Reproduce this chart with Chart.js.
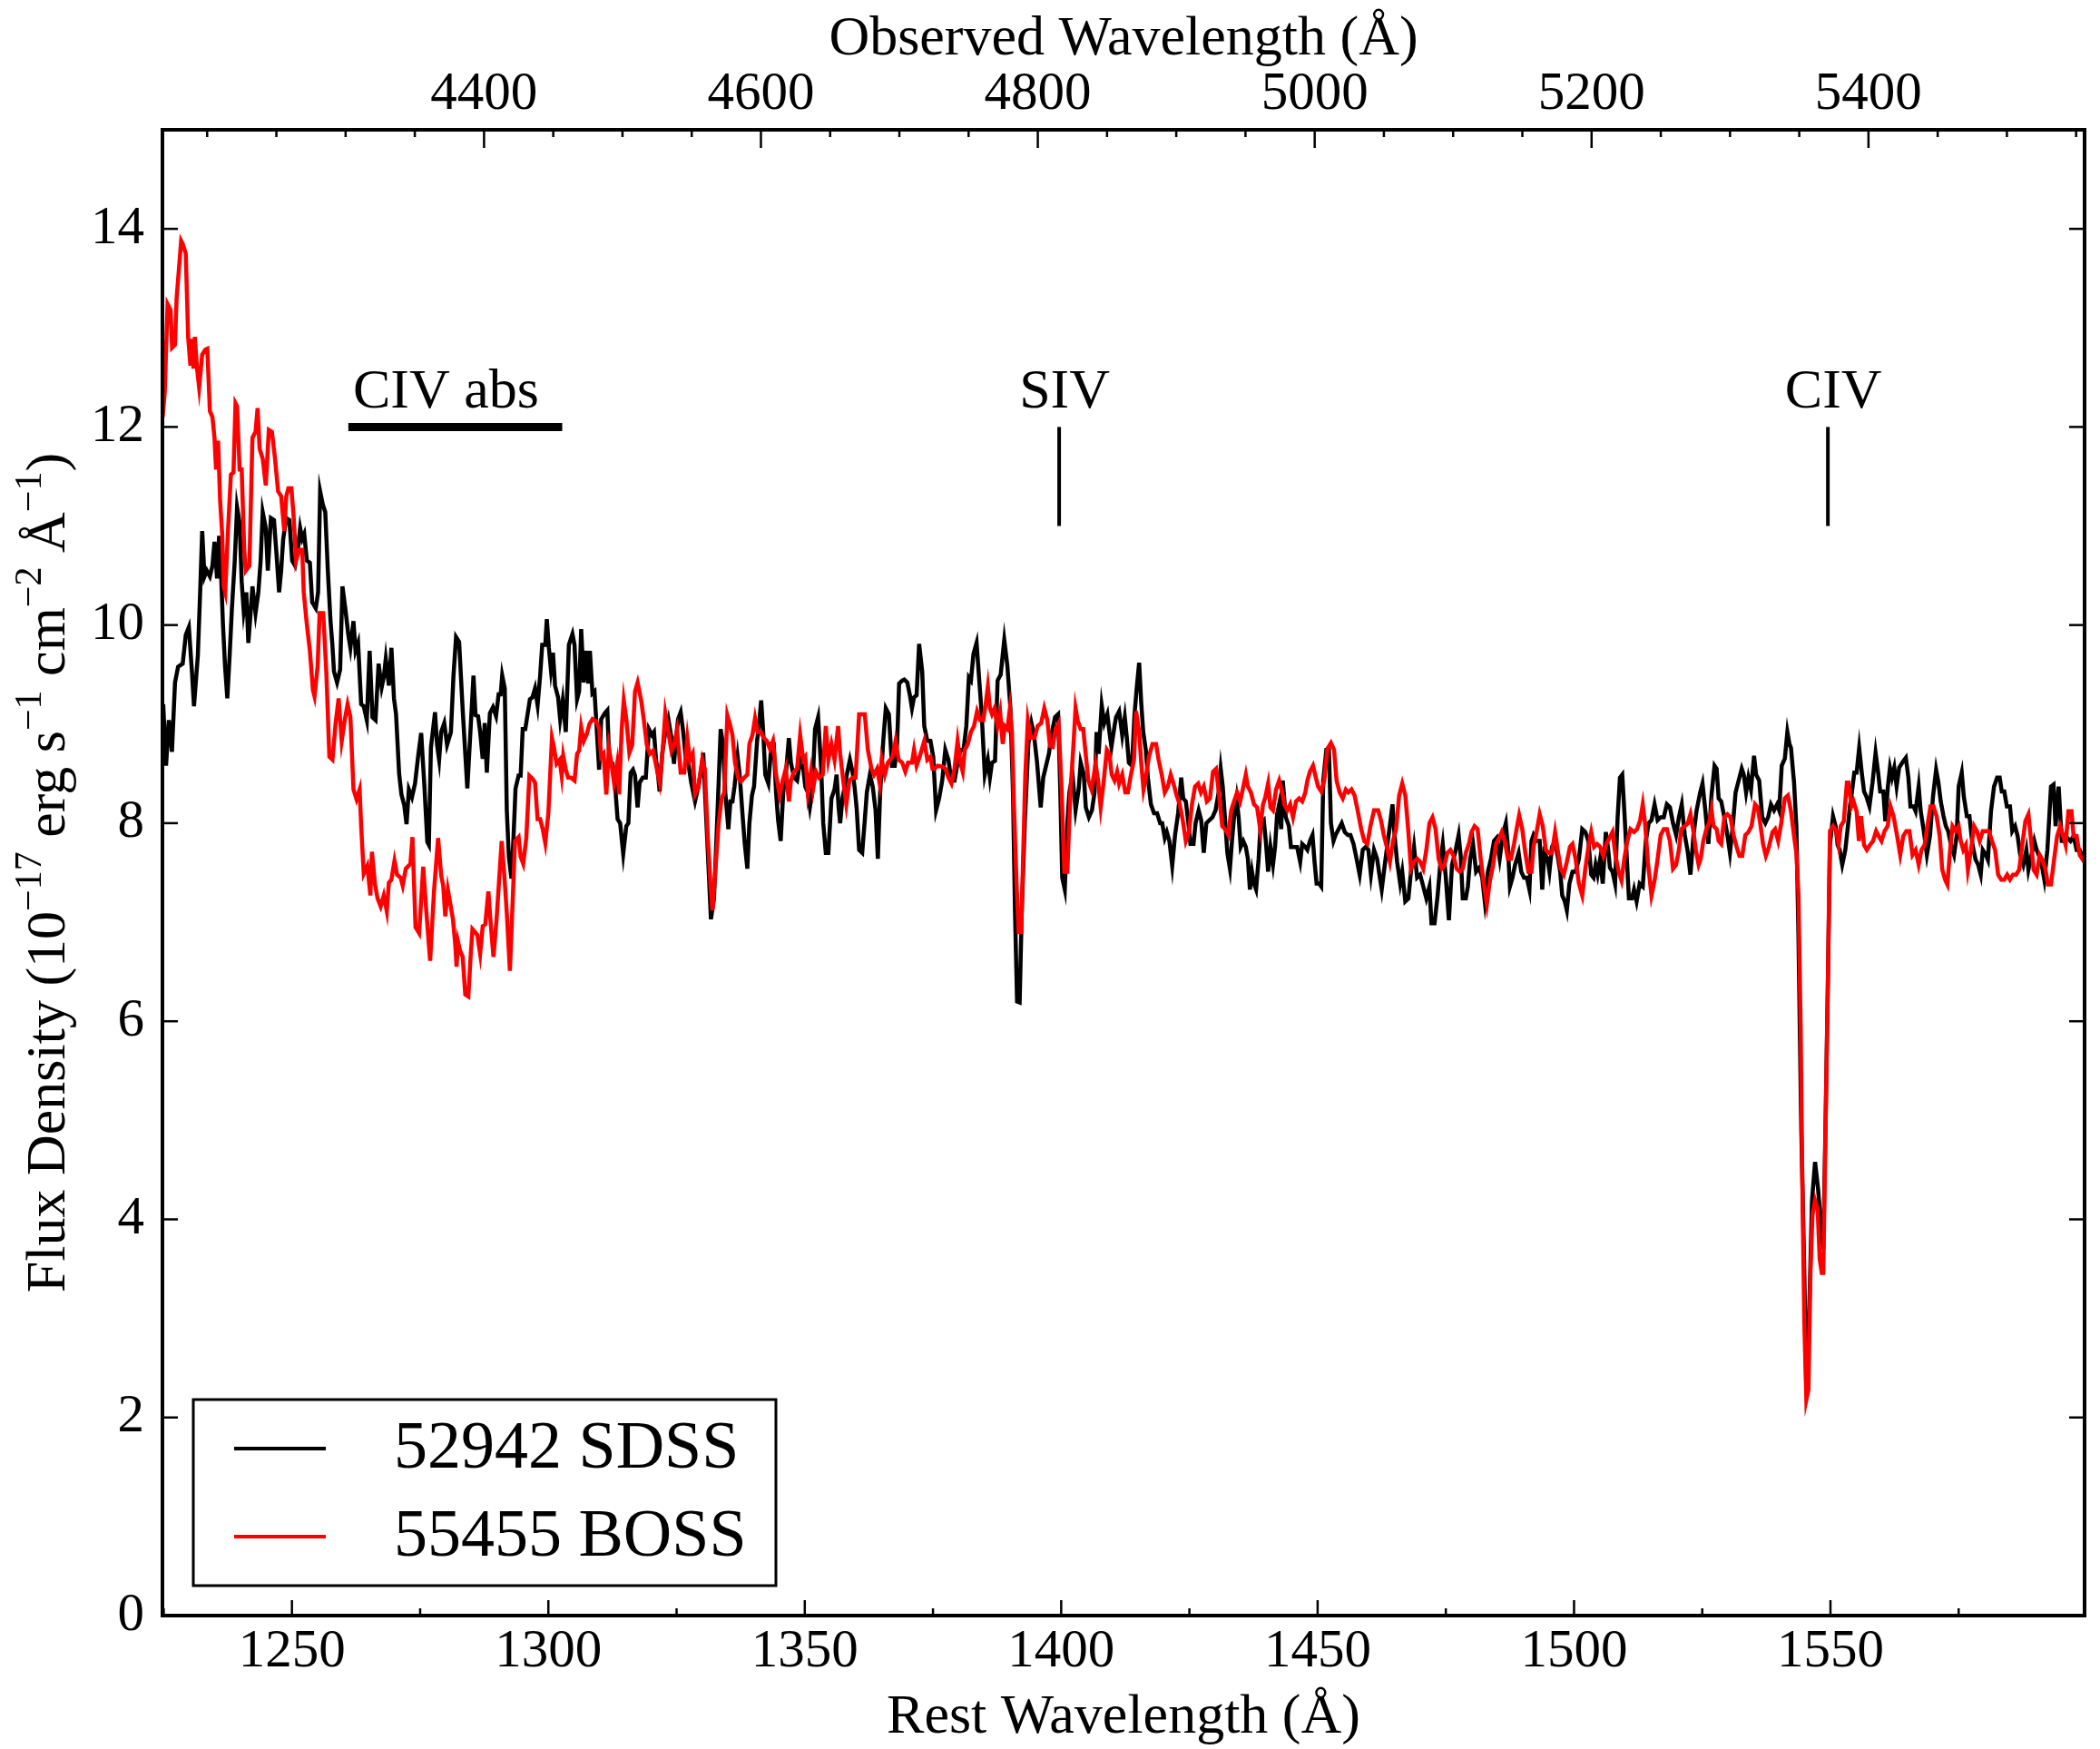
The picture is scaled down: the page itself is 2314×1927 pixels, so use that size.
<!DOCTYPE html>
<html>
<head>
<meta charset="utf-8">
<title>Flux density, 52942 SDSS vs 55455 BOSS</title>
<script src="https://cdn.jsdelivr.net/npm/chart.js@4.4.1/dist/chart.umd.min.js"></script>
<style>
  html, body { margin: 0; padding: 0; background: #fff; }
  canvas { display: block; }
</style>
</head>
<body>
<canvas id="spectrum" width="2314" height="1927" style="width:2314px;height:1927px"></canvas>
<script>
// axis ticks and limits
const restTicks = [1250, 1300, 1350, 1400, 1450, 1500, 1550];
const obsTicks = [4400, 4600, 4800, 5000, 5200, 5400];
const fluxTicks = [0, 2, 4, 6, 8, 10, 12, 14];
const restRange = [1224.75, 1599.55];
const obsRange = [4167.7, 5556.1];
const fluxRange = [0, 15];

// 52942 SDSS spectrum (rest wavelength, flux)
const sdssWave = [
  1224.9,1225.45,1226.0,1226.6,1227.2,1227.8,1228.7,1229.3,
  1229.9,1230.5,1230.9,1231.65,1232.1,1232.5,1232.95,1233.4,
  1234.0,1234.5,1234.9,1235.4,1235.8,1236.2,1236.55,1236.96,
  1237.4,1237.85,1238.3,1238.85,1239.3,1239.8,1240.2,1240.6,
  1241.1,1241.5,1241.85,1242.3,1242.9,1243.45,1243.9,1244.3,
  1244.9,1245.3,1245.9,1246.5,1247.0,1247.5,1247.9,1248.3,
  1248.9,1249.5,1250.05,1250.6,1251.2,1251.6,1252.0,1252.4,
  1252.9,1253.5,1253.95,1254.65,1255.1,1255.5,1256.0,1256.5,
  1257.0,1257.5,1257.9,1258.2,1258.8,1259.4,1259.85,1260.4,
  1261.0,1261.4,1262.0,1262.4,1262.9,1263.5,1264.0,1264.6,
  1265.15,1265.7,1266.3,1266.9,1267.5,1267.9,1268.3,1268.9,
  1269.4,1269.9,1270.3,1270.9,1271.35,1271.9,1272.35,1272.8,
  1273.4,1274.0,1274.6,1275.2,1275.8,1276.4,
  1276.7,1277.1,1277.9,1278.3,1278.7,1279.1,1279.7,1280.25,
  1281.0,1281.5,1282.0,1282.6,1283.3,1284.2,1284.8,1285.4,
  1285.8,1286.3,1286.7,1287.2,1287.6,1288.0,1288.6,1289.2,
  1289.8,1290.3,1290.7,1291.0,1291.5,1291.9,1292.3,1292.8,
  1293.2,1293.6,1294.2,1294.6,1295.0,1295.5,1295.8,1296.4,
  1296.9,1297.4,1297.9,1298.4,1298.8,1299.4,1299.7,1300.1,
  1300.5,1300.9,1301.3,1301.9,1302.3,1302.8,1303.4,1304.0,
  1304.7,1305.1,1305.6,1306.0,1306.4,1306.9,1307.4,1307.8,
  1308.1,1308.6,1309.0,1309.4,1309.9,1310.3,1311.0,1311.5,
  1311.9,1312.5,1313.1,1313.5,1314.0,1314.6,1315.2,1315.6,
  1316.05,1316.5,1316.9,1317.4,1317.8,1318.4,1319.0,1319.6,
  1320.2,1320.6,1321.0,1321.4,1321.7,1322.2,1322.8,1323.4,
  1324.0,1324.5,1324.9,1325.3,1325.8,1326.3,1326.9,1327.3,
  1327.85,1328.6,1329.3,
  1329.9,1330.2,1330.6,1331.1,1331.7,1332.3,1332.9,1333.6,
  1334.05,1334.5,1335.1,1335.5,1335.9,1336.3,1336.9,1337.3,
  1337.9,1338.3,1338.8,1339.2,1339.7,1340.1,1340.7,1341.1,
  1341.5,1341.9,1342.3,1342.9,1343.5,1343.95,1344.4,1344.8,
  1345.3,1345.8,1346.4,1346.9,1347.3,1347.9,1348.5,1349.1,
  1349.7,1350.1,1350.6,1351.0,1351.45,1352.0,1352.6,1353.2,
  1353.6,1354.1,1354.6,1355.2,1355.8,1356.2,1356.6,1356.9,
  1357.35,1357.8,1358.2,1358.8,1359.3,1359.7,1360.1,1360.6,
  1361.2,1361.7,1362.1,1362.7,1363.25,1363.8,1364.25,1364.7,
  1365.3,1365.8,1366.4,1367.0,1367.55,1368.0,1368.4,1369.0,
  1369.4,1370.0,1370.5,1370.9,1371.3,1371.8,1372.3,1372.9,
  1373.3,1373.9,1374.5,1375.05,1375.6,1376.2,1376.8,1377.4,
  1378.0,1378.6,1379.2,1379.8,1380.35,1380.95,1381.5,1382.0,
  1382.4,1382.9,1383.5,1383.9,1384.5,1385.1,1385.7,1386.1,
  1386.5,1387.1,1387.6,1388.2,1388.9,1389.5,1390.1,1390.6,
  1391.0,1391.4,1391.9,1392.3,1392.9,1393.6,1394.2,1394.7,
  1395.3,1396.0,1396.5,1397.05,1397.6,1398.2,1398.8,1399.4,
  1399.8,1400.2,1400.7,1401.2,1401.6,1402.2,1402.8,1403.4,
  1403.8,1404.4,1404.8,1405.4,1406.0,1406.5,1406.9,1407.3,
  1407.9,1408.4,1409.0,1409.4,1409.8,1410.4,1410.7,1411.3,
  1411.9,1412.4,1412.8,1413.2,1413.8,1414.3,1414.75,1415.2,
  1415.6,1416.0,1416.5,1416.9,1417.5,1418.1,1418.7,1419.3,
  1419.7,1420.2,1420.6,1421.1,1421.65,1422.2,1422.8,1423.4,
  1423.8,1424.3,1424.8,1425.2,1425.8,1426.2,1426.8,1427.3,
  1427.8,1428.3,1428.9,1429.5,1430.1,1430.7,1431.1,1431.5,
  1432.0,1432.4,1432.9,1433.3,1433.7,1434.2,1434.6,1435.0,
  1435.5,1436.0,1436.4,1436.8,1437.2,1437.6,1438.0,1438.5,
  1438.9,1439.5,1439.9,1440.35,1440.8,1441.3,1441.7,1442.1,
  1442.5,1442.9,1443.2,1443.8,1444.4,1444.8,1445.4,1446.0,
  1446.6,1447.0,1447.6,1448.0,1448.5,1449.0,1449.4,1449.8,
  1450.3,1450.7,1451.1,1451.7,1452.2,1452.6,1453.1,1453.5,
  1454.1,1454.7,1455.3,1455.9,1456.4,1457.0,1457.6,1458.2,
  1458.8,1459.4,1459.9,1460.4,1461.0,1461.6,1462.05,1462.5,
  1463.1,1463.7,1464.3,1464.6,1465.0,1465.5,1466.1,1466.5,
  1467.1,1467.7,1468.2,1468.8,1469.4,1470.0,1470.6,1471.2,
  1471.8,1472.2,1472.8,1473.4,1474.0,1474.4,1475.0,1475.6,
  1476.2,1476.8,1477.5,1477.9,1478.3,1478.9,1479.3,1479.75,
  1480.3,1480.9,1481.5,1482.1,1482.6,1483.2,1483.8,1484.4,
  1484.9,1485.5,1486.1,1486.7,1487.1,1487.5,1488.0,1488.5,
  1489.2,1489.7,1490.25,1490.8,1491.3,1491.7,1492.1,1492.7,
  1493.3,1493.8,1494.2,1494.8,1495.2,1495.7,1496.3,1496.9,
  1497.3,1497.7,1498.2,1498.6,1499.1,1499.7,1500.3,1500.95,
  1501.6,1502.2,1502.8,1503.35,1503.8,1504.2,1504.6,1505.1,
  1505.6,1506.2,1506.6,1507.0,1507.5,1508.0,1508.5,1508.95,
  1509.4,1509.8,1510.3,1510.7,1511.3,1511.7,1512.2,1512.8,
  1513.4,1514.0,1514.55,1515.1,1515.7,1516.3,1516.9,1517.5,
  1518.1,1518.7,1519.3,1519.9,1520.45,1521.0,1521.6,1522.2,
  1522.7,1523.3,1523.9,1524.6,1525.05,1525.6,1526.2,1526.8,
  1527.4,1527.8,1528.2,1528.7,1529.3,1529.9,1530.4,1531.0,
  1531.5,1532.1,1532.7,1533.1,1533.55,1534.0,1534.5,1535.1,
  1535.5,1536.1,1536.7,1537.3,1537.85,1538.4,1539.0,1539.6,
  1540.0,1540.5,1541.1,1541.6,1542.0,
  1542.3,1542.9,1543.35,1543.75,1544.3,1544.9,1545.3,1545.8,
  1546.4,1547.0,1547.6,1548.2,1548.6,1549.05,1549.5,1549.9,
  1550.5,1551.0,1551.4,1551.8,1552.3,1552.9,1553.4,1553.8,
  1554.2,1554.65,1555.1,1555.6,1556.1,1556.55,1557.0,1557.6,
  1558.2,1558.8,1559.3,1559.7,1560.3,1560.7,1561.2,1561.6,
  1562.0,1562.45,1562.9,1563.4,1564.0,1564.7,1565.2,1565.6,
  1566.2,1566.6,1567.2,1567.6,1568.2,1568.8,1569.4,1570.0,
  1570.6,1571.05,1571.5,1572.05,1572.5,1572.95,1573.5,1574.1,
  1574.6,1575.0,1575.6,1576.0,1576.6,1577.1,1577.7,1578.3,
  1578.8,1579.3,1579.7,1580.3,1580.7,1581.3,1581.9,1582.5,
  1583.0,1583.4,1583.9,1584.4,1585.0,1585.45,1586.0,1586.5,
  1587.0,1587.6,1588.2,1588.6,1589.2,1589.75,1590.2,1590.6,
  1591.2,1591.7,1592.3,1593.0,1593.5,1593.9,1594.5,1595.1,
  1595.65,1596.2,1596.8,1597.4,1598.0,1598.6,1599.0,1599.6
];
const sdssFlux = [
  9.20,8.58,9.04,8.72,9.42,9.58,9.61,9.90,
  9.98,9.53,9.18,9.69,10.33,10.95,10.49,10.55,
  10.49,10.60,10.84,10.47,10.90,10.49,10.01,9.58,
  9.26,9.69,10.17,10.65,11.19,11.03,10.44,10.14,
  10.33,9.82,10.06,10.39,10.12,10.33,10.65,11.14,
  10.98,10.55,11.08,11.06,10.71,10.33,10.55,10.87,
  11.08,11.06,10.65,10.60,10.79,10.98,10.87,10.92,
  10.65,10.63,10.23,10.17,10.33,11.35,11.22,11.14,
  10.55,10.06,9.79,9.53,9.42,9.55,10.39,10.17,
  9.90,9.77,10.04,9.74,9.82,9.20,9.18,9.04,
  9.74,9.07,9.04,9.61,9.37,9.47,9.66,9.39,
  9.77,9.26,9.10,8.50,8.29,8.18,7.99,8.34,
  8.26,8.40,8.67,8.91,8.40,7.81,
  7.78,8.76,9.12,8.79,8.64,8.92,9.01,8.79,
  8.92,9.49,9.88,9.83,9.14,8.35,8.92,9.49,
  9.09,9.08,8.92,8.65,9.01,8.51,9.11,9.17,
  9.08,9.30,9.30,9.49,9.36,8.13,7.66,7.44,
  7.85,8.35,8.48,8.48,8.95,8.95,9.05,9.25,
  9.27,9.36,9.19,9.49,9.80,9.80,10.06,9.77,
  9.55,9.72,9.39,9.27,9.05,9.24,8.92,9.80,
  9.91,9.80,9.25,9.33,9.96,9.42,9.74,9.41,
  9.74,9.31,9.33,8.98,8.54,9.05,9.11,9.14,
  8.60,8.60,8.32,8.04,8.00,7.69,7.97,8.00,
  8.51,8.54,8.48,8.16,8.41,8.46,8.46,8.95,
  8.89,8.92,8.64,8.48,8.32,8.70,8.92,9.05,
  8.86,8.60,8.86,9.05,9.12,8.92,8.60,8.60,
  8.41,8.22,8.38,
  8.58,8.71,8.25,7.70,7.03,7.24,8.00,8.95,
  8.80,8.31,7.94,8.22,8.22,8.37,8.67,8.49,
  8.06,7.79,7.54,8.00,8.28,8.37,8.83,9.01,
  9.24,8.92,8.49,8.40,8.80,8.80,8.31,8.03,
  7.82,8.31,8.55,8.86,8.61,8.46,8.43,8.64,
  8.55,8.37,8.31,8.16,8.31,8.95,9.07,8.55,
  8.00,7.70,7.70,8.25,8.34,8.49,8.16,8.00,
  8.25,8.37,8.49,8.64,8.52,8.37,8.16,7.73,
  7.70,8.03,8.31,8.49,8.37,8.13,7.64,8.31,
  8.83,9.16,9.10,8.58,8.58,8.80,9.41,9.44,
  9.45,9.42,9.29,9.16,9.27,9.29,9.81,9.53,
  8.98,8.83,8.83,8.67,8.13,8.25,8.43,8.74,
  8.64,8.43,8.43,8.61,8.74,8.74,8.98,9.47,
  9.44,9.71,9.82,9.53,9.10,8.49,8.64,8.46,
  8.61,8.63,9.44,9.50,9.85,9.59,9.16,8.31,
  7.09,6.20,6.19,7.09,8.00,8.80,9.01,8.89,
  8.61,8.16,8.46,8.58,8.70,8.92,9.07,9.10,
  8.37,7.45,7.33,8.00,8.31,8.49,8.13,8.34,
  8.61,8.49,8.16,8.06,8.13,8.31,8.92,8.70,
  9.19,9.01,9.10,8.92,8.77,8.98,9.07,9.13,
  8.89,9.07,8.86,8.61,8.58,9.10,9.38,9.62,
  9.22,8.92,8.74,8.46,8.19,8.10,8.10,8.00,
  8.00,7.85,7.91,7.82,7.57,7.88,8.10,8.46,
  8.25,8.22,8.00,7.79,7.79,8.00,8.13,8.03,
  7.70,8.00,8.03,8.06,8.13,8.31,8.55,8.37,
  8.00,7.70,7.54,7.82,8.06,8.25,8.06,7.76,
  7.82,7.76,7.64,7.33,7.51,7.39,7.33,7.64,
  8.00,8.03,7.82,7.51,7.76,7.58,7.76,8.09,
  8.19,7.94,8.43,8.06,7.97,7.76,7.76,7.76,
  7.61,7.79,7.76,7.73,7.82,7.88,7.61,7.39,
  7.39,7.36,8.43,8.74,8.74,8.00,7.82,7.88,
  7.94,8.00,7.91,7.88,7.88,7.79,7.64,7.48,
  7.73,7.76,7.73,7.48,7.73,7.64,7.48,7.33,
  7.58,7.82,8.06,8.19,7.88,7.61,7.39,7.51,
  7.21,7.24,7.51,7.76,7.45,7.48,7.36,7.24,
  7.36,6.99,6.99,7.27,7.64,7.79,7.45,7.02,
  7.58,7.70,7.88,7.67,7.24,7.24,7.36,7.64,
  7.79,7.51,7.55,7.45,7.21,7.51,7.64,7.82,
  7.85,7.64,7.88,8.00,7.76,7.36,7.45,7.58,
  7.70,7.51,7.45,7.45,7.33,7.82,7.88,7.82,
  7.82,7.33,7.70,7.64,7.51,7.76,7.82,7.64,
  7.51,7.27,7.21,7.12,7.39,7.51,7.51,7.64,
  7.94,7.91,7.82,7.48,7.45,7.58,7.48,7.64,
  7.39,7.91,7.76,7.55,7.51,7.39,8.06,8.46,
  8.49,8.13,7.64,7.24,7.24,7.33,7.21,7.39,
  7.36,7.82,8.00,8.03,8.19,8.03,8.06,8.06,
  8.19,8.16,8.00,7.88,8.06,8.19,7.88,7.70,
  7.48,7.88,8.13,8.31,8.40,8.13,7.79,8.28,
  8.58,8.55,8.25,8.22,8.06,7.88,7.70,8.00,
  8.31,8.43,8.55,8.49,8.31,8.46,8.34,8.68,
  8.49,8.43,8.06,8.00,8.06,8.19,8.13,8.19,
  8.13,8.58,8.65,8.92,8.80,
  8.76,8.41,7.97,6.89,4.93,3.46,2.28,2.96,
  4.19,4.58,4.30,3.90,3.70,5.00,6.40,7.78,
  8.07,7.97,7.78,7.73,7.58,7.73,7.97,8.17,
  8.32,8.51,8.51,8.76,8.51,8.32,8.27,8.17,
  8.41,8.71,8.51,8.32,8.32,8.02,8.37,8.56,
  8.46,8.56,8.37,8.56,8.61,8.66,8.46,8.17,
  8.17,8.12,8.37,8.12,7.92,7.68,7.87,8.27,
  8.54,8.41,8.22,8.07,7.97,7.92,7.78,7.68,
  7.87,8.37,8.51,8.27,8.07,8.07,7.78,7.63,
  7.58,7.48,7.73,7.68,7.63,8.12,8.37,8.46,
  8.46,8.32,8.32,8.17,8.17,7.92,7.97,7.87,
  7.68,7.58,7.73,7.53,7.68,7.82,7.73,7.68,
  7.58,7.43,7.73,8.37,8.39,7.97,8.37,7.82,
  7.82,7.85,7.82,7.87,7.73,7.73,7.68,7.65
];

// 55455 BOSS spectrum (rest wavelength, flux)
const bossWave = [
  1224.8,1225.2,1225.75,1226.34,1226.63,1227.2,1227.5,1228.4,
  1228.7,1229.3,1229.76,1230.2,1230.5,1230.8,1231.06,1231.5,
  1231.9,1232.5,1233.1,1233.5,1234.0,1234.5,1234.9,1235.2,
  1235.6,1236.0,1236.4,1236.7,1237.0,1237.5,1238.1,1238.6,
  1239.0,1239.3,1239.8,1240.2,1240.7,1241.0,1241.7,1242.3,
  1242.9,1243.3,1243.7,1244.3,1244.9,1245.5,1246.1,1246.7,
  1247.3,1247.9,1248.5,1248.9,1249.3,1249.9,1250.35,1250.8,
  1251.4,1252.0,1252.3,1252.9,1253.5,1254.1,1254.4,1255.0,
  1255.4,1256.1,1256.7,1257.3,1257.9,1258.5,1259.1,1259.7,
  1260.3,1260.85,1261.4,1262.0,1262.6,1263.2,1263.5,1264.0,
  1264.7,1265.3,1265.6,1266.2,1266.7,1267.3,1267.9,1268.5,
  1268.9,1269.4,1270.0,1270.5,1271.2,1271.6,1272.2,1273.1,
  1273.5,1274.1,1274.8,1275.6,1276.2,
  1276.95,1277.7,1278.5,1279.1,1279.5,1279.9,1280.4,1281.0,
  1281.4,1281.85,1282.1,1282.4,1282.8,1283.3,1283.8,1284.4,
  1284.8,1285.2,1285.7,1286.15,1286.7,1287.2,1287.7,1288.3,
  1288.8,1289.3,1289.9,1290.9,1291.5,1291.9,1292.5,1292.9,
  1293.5,1294.2,1294.6,1295.1,1295.7,1296.3,1296.9,1297.4,
  1297.9,1298.4,1298.9,1299.4,1300.0,1300.7,1301.1,1301.6,
  1302.2,1302.6,1302.9,1303.4,1303.85,1304.4,1305.1,1305.6,
  1306.0,1306.4,1306.9,1307.5,1308.0,1308.6,1309.3,1309.9,
  1310.3,1310.75,1311.3,1311.8,1312.3,1312.8,1313.4,1313.8,
  1314.3,1314.7,1315.2,1315.8,1316.35,1316.9,1317.4,1318.1,
  1318.6,1319.2,1319.8,1320.4,1320.95,1321.7,1322.2,1322.8,
  1323.4,1324.0,1324.5,1325.1,1325.8,1326.5,1327.1,1327.6,
  1328.15,1328.6,1329.2,
  1330.0,1330.5,1331.1,1331.6,1332.0,1332.6,1333.2,1333.8,
  1334.3,1334.9,1335.5,1335.9,1336.4,1337.0,1337.6,1338.2,
  1338.8,1339.2,1339.8,1340.3,1340.8,1341.4,1342.0,1342.6,
  1343.2,1343.8,1344.4,1345.1,1345.7,1346.3,1346.9,1347.3,
  1347.9,1348.5,1349.1,1349.7,1350.1,1350.6,1351.2,1351.6,
  1352.2,1352.8,1353.5,1354.1,1354.6,1355.2,1355.8,1356.5,
  1356.9,1357.5,1358.1,1358.7,1359.3,1359.9,1360.6,1361.2,
  1361.7,1362.3,1363.0,1363.5,1364.1,1364.6,1365.0,1365.6,
  1366.2,1367.1,1367.7,1368.3,1369.0,1369.6,1370.15,1370.9,
  1371.3,1371.8,1372.4,1373.3,1373.9,1374.5,1374.9,1375.3,
  1375.9,1376.8,1377.4,1378.0,1378.6,1379.2,1379.8,1380.35,
  1380.8,1381.2,1381.8,1382.4,
  1383.0,1383.6,1384.2,1384.8,1385.25,1385.7,1386.1,1386.5,
  1387.0,1387.6,1388.1,1388.6,1389.0,1389.5,1390.0,1390.4,
  1390.8,1391.3,1391.7,1392.2,1392.6,1393.0,1393.5,1394.1,
  1394.8,1395.4,1396.1,1396.7,1397.3,1397.8,1398.35,1398.9,
  1399.5,1400.1,1400.6,1401.2,1401.8,1402.4,1402.8,1403.2,
  1403.8,1404.3,1404.7,1405.3,1405.9,1406.3,1406.7,1407.2,
  1407.7,1408.3,1408.9,1409.4,1409.85,1410.4,1410.9,1411.3,
  1411.9,1412.5,1413.0,1413.6,1414.2,1414.6,1415.2,1415.6,
  1416.05,1416.5,1417.1,1417.8,1418.5,1419.0,1419.6,1420.2,
  1420.8,1421.35,1421.9,1422.5,1423.1,1423.7,1424.3,1424.9,
  1425.5,1426.1,1426.7,1427.25,1427.8,1428.4,1429.0,1429.6,
  1430.2,1430.8,1431.4,1431.95,1432.6,1433.15,1433.7,1434.3,
  1434.9,1435.4,
  1436.0,1436.4,1437.0,1437.6,1438.2,1438.8,1439.35,1439.8,
  1440.35,1440.8,1441.3,1441.9,1442.5,1443.1,1443.5,1444.1,
  1444.65,1445.2,1445.8,1446.4,1447.0,1447.6,1448.0,1448.5,
  1449.1,1449.7,1450.1,1450.7,1451.3,1451.9,1452.6,1453.2,
  1453.7,1454.3,1454.9,1455.5,1456.0,1456.6,1457.2,1457.8,
  1458.5,1459.1,1459.7,1460.3,1461.0,1461.8,1462.35,1462.9,
  1463.5,1464.1,1464.7,1465.3,1465.9,1466.5,1467.1,1467.7,
  1468.2,1468.8,1469.4,1470.0,1470.6,1471.2,1471.8,1472.4,
  1473.0,1473.6,1474.2,1474.7,1475.3,1475.9,1476.5,1477.1,
  1477.7,1478.3,1478.9,1479.5,1480.0,1480.6,1481.2,1481.8,
  1482.4,1483.0,1483.6,1484.2,1484.8,1485.4,1485.9,1486.5,
  1487.1,1487.7,1488.3,1488.9,
  1489.3,1489.9,1490.5,1491.1,1491.7,1492.1,1492.7,1493.3,
  1493.9,1494.5,1495.1,1495.7,1496.3,1496.9,1497.4,1498.0,
  1498.6,1499.2,1499.7,1500.3,1500.95,1501.6,1502.2,1502.8,
  1503.35,1503.9,1504.5,1505.1,1505.7,1506.3,1506.9,1507.5,
  1508.1,1508.7,1509.25,1509.8,1510.4,1511.0,1511.7,1512.3,
  1512.9,1513.4,1513.85,1514.4,1515.1,1515.7,1516.3,1516.9,
  1517.5,1518.1,1518.7,1519.3,1519.9,1520.45,1520.9,1521.6,
  1522.2,1522.7,1523.3,1523.75,1524.3,1524.7,1525.2,1525.8,
  1526.35,1526.8,1527.2,1527.8,1528.2,1528.7,1529.3,1529.9,
  1530.5,1531.1,1531.7,1532.25,1532.8,1533.4,1534.0,1534.6,
  1535.3,1535.8,1536.3,1536.85,1537.4,1538.0,1538.7,1539.2,
  1539.8,1540.4,1541.1,1541.7,
  1542.3,1542.9,1543.35,1543.75,1544.2,1544.5,1544.9,1545.3,
  1545.7,1546.1,1546.5,1547.0,1547.5,1547.9,1548.3,1548.6,
  1549.05,1549.5,1549.9,1550.5,1551.1,1551.6,1552.0,1552.6,
  1553.2,1553.5,1554.1,1554.5,1555.1,1555.55,1555.95,1556.55,
  1557.1,1557.7,1558.3,1558.9,1559.4,1559.95,1560.55,1561.15,
  1561.7,1562.3,1563.0,1563.6,1564.2,1564.8,1565.4,1566.0,
  1566.6,1567.2,1567.75,1568.35,1568.9,1569.5,1570.1,1570.7,
  1571.3,1571.8,1572.35,1572.8,1573.25,1573.8,1574.4,1575.0,
  1575.4,1575.9,1576.4,1576.8,1577.4,1578.0,1578.55,1579.1,
  1579.7,1580.3,1580.9,1581.5,1582.1,1582.7,1583.3,1583.9,
  1584.45,1585.0,1585.6,1586.2,1586.8,1587.4,1588.0,1588.6,
  1589.2,1589.6,1590.2,1590.8,1591.35,1591.95,1592.4,1593.0,
  1593.6,1594.2,1594.8,1595.4,1595.85,1596.4,1597.0,1597.4,
  1598.0,1598.6,1599.2,1599.6
];
const bossFlux = [
  12.10,12.35,13.24,13.18,12.80,12.83,13.29,13.88,
  13.85,13.75,12.91,12.62,12.89,12.59,12.91,12.59,
  12.40,12.73,12.78,12.79,12.16,12.10,11.89,11.57,
  11.86,11.25,10.92,10.39,10.33,10.92,11.52,11.54,
  12.24,12.21,11.57,11.57,10.76,10.55,10.60,11.89,
  11.95,12.19,11.78,11.68,11.41,11.97,11.95,11.68,
  11.35,11.30,10.95,11.30,11.38,11.38,11.08,10.65,
  10.76,10.76,10.33,10.01,9.74,9.34,9.28,9.58,
  10.12,10.12,9.53,8.67,8.64,9.00,9.26,8.83,
  9.04,9.20,9.07,8.34,8.24,8.34,7.97,7.49,
  7.57,7.27,7.71,7.38,7.24,7.16,7.27,7.11,
  7.40,7.43,7.62,7.48,7.45,7.37,7.54,7.59,
  7.86,6.95,6.89,7.56,7.11,
  6.61,7.31,7.85,7.47,7.37,7.06,7.33,7.15,
  7.03,6.77,6.55,6.80,6.71,6.65,6.27,6.25,
  6.62,6.93,6.90,6.87,6.68,6.96,6.98,7.31,
  6.96,6.65,7.03,7.82,7.41,7.09,6.51,7.03,
  7.82,7.86,7.66,7.59,7.85,8.48,8.45,8.41,
  8.04,8.04,7.94,7.80,8.10,8.86,8.76,8.60,
  8.64,8.48,8.68,8.54,8.46,8.46,8.43,8.70,
  8.73,8.97,8.83,8.90,9.00,9.05,9.03,8.95,
  8.67,8.70,8.29,8.76,8.60,8.41,8.60,8.29,
  8.95,9.24,9.05,8.71,8.79,9.33,9.42,9.24,
  9.05,8.79,8.70,8.73,8.60,8.41,8.67,9.11,
  8.92,8.73,8.79,8.94,8.51,8.51,8.86,8.64,
  8.70,8.29,8.35,
  8.64,8.55,7.85,7.39,7.12,7.54,8.00,8.25,
  8.31,9.09,8.98,8.89,8.61,8.46,8.42,8.46,
  8.49,8.80,8.89,9.06,8.92,8.92,8.86,8.83,
  8.75,8.83,8.49,8.28,8.43,8.55,8.22,8.43,
  8.52,8.55,8.89,8.64,8.67,8.31,8.52,8.34,
  8.52,8.46,8.49,8.98,8.64,8.80,8.64,8.98,
  8.70,8.43,8.19,8.43,8.46,8.46,9.10,9.10,
  9.10,8.74,8.55,8.49,8.55,8.40,8.64,8.49,
  8.61,8.67,8.83,8.64,8.61,8.52,8.61,8.61,
  8.74,8.58,8.67,8.83,8.64,8.67,8.55,8.55,
  8.58,8.57,8.55,8.46,8.40,8.55,8.83,8.61,
  8.52,8.74,8.80,8.92,
  8.98,9.13,9.04,9.04,9.19,9.38,9.16,9.10,
  9.16,8.98,9.12,8.80,8.98,8.95,9.16,8.92,
  8.16,7.39,6.90,6.90,7.70,8.49,9.04,8.86,
  8.86,8.98,9.01,9.16,9.04,8.78,8.77,8.95,
  9.01,8.31,7.51,7.51,8.31,8.80,9.16,9.04,
  8.95,8.95,8.74,8.43,8.34,8.46,8.60,8.43,
  8.16,8.43,8.74,8.70,8.49,8.43,8.52,8.40,
  8.49,8.31,8.31,8.49,8.64,9.13,8.92,8.61,
  8.34,8.46,8.67,8.80,8.80,8.64,8.49,8.31,
  8.37,8.49,8.40,8.28,8.19,8.03,7.82,7.91,
  8.19,8.37,8.40,8.31,8.37,8.22,8.25,8.52,
  8.55,8.28,7.97,7.94,7.88,8.13,8.22,8.31,
  8.22,8.34,
  8.49,8.37,8.31,8.19,8.16,7.94,8.19,8.26,
  8.40,8.16,8.13,8.34,8.43,8.31,8.19,8.13,
  8.19,8.06,8.22,8.25,8.22,8.31,8.43,8.52,
  8.58,8.45,8.37,8.32,8.43,8.75,8.81,8.74,
  8.43,8.31,8.25,8.34,8.31,8.34,8.28,8.13,
  7.94,7.82,7.79,7.97,8.13,8.13,8.03,7.88,
  7.76,7.61,7.82,7.94,8.28,8.40,8.28,7.91,
  7.54,7.61,7.64,7.61,7.54,7.73,8.00,8.06,
  7.94,7.64,7.54,7.57,7.70,7.73,7.67,7.54,
  7.51,7.54,7.70,7.79,7.91,7.97,7.94,7.64,
  7.39,7.18,7.42,7.57,7.79,7.85,7.91,7.82,
  7.64,7.64,7.79,7.97,
  8.08,7.94,7.70,7.51,7.51,7.76,7.91,8.09,
  7.97,7.73,7.70,7.70,7.91,7.70,7.54,7.48,
  7.61,7.76,7.79,7.64,7.39,7.27,7.54,7.76,
  7.91,7.76,7.79,7.76,7.67,7.79,7.85,7.91,
  7.67,7.51,7.42,7.64,7.82,7.94,7.91,7.94,
  8.03,8.19,8.00,7.61,7.27,7.42,7.64,7.88,
  7.94,7.94,7.82,7.54,7.58,7.73,7.94,7.97,
  8.00,8.09,7.91,7.73,7.58,7.64,7.82,7.94,
  8.00,8.14,7.97,7.94,7.82,7.79,8.06,8.09,
  8.06,7.88,7.76,7.67,7.67,7.88,7.91,7.97,
  8.19,8.16,8.00,7.79,7.67,7.76,7.91,7.94,
  7.82,8.00,8.25,8.28,
  8.12,7.87,7.70,7.29,5.91,4.44,2.96,2.18,
  2.28,3.46,4.05,4.19,4.10,3.60,3.46,3.46,
  4.93,6.40,7.92,7.97,7.92,7.78,7.97,8.02,
  8.41,8.41,8.17,8.22,8.12,7.82,8.07,7.78,
  7.73,7.78,7.82,7.92,7.87,7.82,7.92,7.97,
  8.17,8.07,7.87,7.68,7.87,7.92,7.92,7.68,
  7.73,7.58,7.73,7.78,7.97,8.17,8.17,8.07,
  7.87,7.53,7.43,7.38,7.68,7.97,7.92,7.97,
  7.82,7.73,7.78,7.53,7.73,7.97,7.92,7.82,
  7.92,7.92,7.92,7.82,7.73,7.48,7.43,7.43,
  7.48,7.43,7.48,7.48,7.53,7.78,8.02,8.09,
  7.78,7.53,7.48,7.68,7.63,7.53,7.38,7.38,
  7.63,7.87,7.97,7.87,7.78,8.12,8.12,7.87,
  7.87,7.68,7.63,7.60
];

// line identifications (rest wavelength)
const lineMarks = [{ label: 'SIV', wave: 1399.6 }, { label: 'CIV', wave: 1549.5 }];
const absBand = { label: 'CIV abs', from: 1261.0, to: 1302.7 };

const FONT = "'Liberation Serif', 'DejaVu Serif', serif";
const toPoints = (w, f) => w.map((x, i) => ({ x: x, y: f[i] }));
const plainLabel = v => String(v);

const decor = {
    id: 'decor',
    afterDatasetsDraw(chart) {
        const { ctx, scales: { x, y } } = chart;
        ctx.save();
        ctx.strokeStyle = '#000';
        ctx.fillStyle = '#000';
        ctx.font = '62px ' + FONT;
        ctx.textBaseline = 'alphabetic';
        // absorption trough bar
        ctx.lineWidth = 9;
        ctx.beginPath();
        ctx.moveTo(x.getPixelForValue(absBand.from), y.getPixelForValue(12));
        ctx.lineTo(x.getPixelForValue(absBand.to), y.getPixelForValue(12));
        ctx.stroke();
        ctx.textAlign = 'left';
        ctx.fillText(absBand.label, x.getPixelForValue(absBand.from + 0.9), y.getPixelForValue(12.2));
        // emission line markers
        ctx.lineWidth = 4;
        lineMarks.forEach(m => {
            const px = x.getPixelForValue(m.wave);
            ctx.beginPath();
            ctx.moveTo(px, y.getPixelForValue(12));
            ctx.lineTo(px, y.getPixelForValue(11));
            ctx.stroke();
            ctx.textAlign = 'center';
            ctx.fillText(m.label, px + 6, y.getPixelForValue(12.2));
        });
        ctx.restore();
    },
    afterDraw(chart) {
        const { ctx, chartArea: a, scales: { x, x2, y } } = chart;
        ctx.save();
        ctx.strokeStyle = '#000';
        ctx.fillStyle = '#000';
        const seg = (x0, y0, x1, y1) => { ctx.beginPath(); ctx.moveTo(x0, y0); ctx.lineTo(x1, y1); ctx.stroke(); };

        // inward ticks
        ctx.lineWidth = 2.5;
        for (let v = 1225; v <= restRange[1]; v += 25) {
            const px = x.getPixelForValue(v);
            seg(px, a.bottom, px, a.bottom - (restTicks.includes(v) ? 17 : 8));
        }
        for (let v = 4200; v <= obsRange[1]; v += 50) {
            const px = x2.getPixelForValue(v);
            seg(px, a.top, px, a.top + (obsTicks.includes(v) ? 20 : 8));
        }
        fluxTicks.forEach(v => {
            const py = y.getPixelForValue(v);
            seg(a.left, py, a.left + 17, py);
            seg(a.right, py, a.right - 17, py);
        });

        // frame
        ctx.lineWidth = 4;
        ctx.strokeRect(a.left, a.top, a.right - a.left, a.bottom - a.top);

        // y axis title with superscripts
        const parts = [
            ['Flux Density (10', false], ['\u221217', true], [' erg s', false], ['\u22121', true],
            [' cm', false], ['\u22122', true], [' \u00c5', false], ['\u22121', true], [')', false]
        ];
        const big = '62px ' + FONT, small = '42px ' + FONT;
        let total = 0;
        parts.forEach(p => { ctx.font = p[1] ? small : big; total += ctx.measureText(p[0]).width; });
        ctx.translate(71, (a.top + a.bottom) / 2);
        ctx.rotate(-Math.PI / 2);
        ctx.textAlign = 'left';
        ctx.textBaseline = 'alphabetic';
        let cx = -total / 2;
        parts.forEach(p => {
            ctx.font = p[1] ? small : big;
            ctx.fillText(p[0], cx, p[1] ? -26 : 0);
            cx += ctx.measureText(p[0]).width;
        });
        ctx.setTransform(1, 0, 0, 1, 0, 0);

        // legend box
        const bx = a.left + 34, by = a.bottom - 238, bw = 642, bh = 205;
        ctx.lineWidth = 3;
        ctx.strokeRect(bx, by, bw, bh);
        ctx.font = '74px ' + FONT;
        ctx.textAlign = 'left';
        ctx.textBaseline = 'middle';
        chart.data.datasets.forEach((ds, i) => {
            const ly = by + 54 + i * 97;
            ctx.strokeStyle = ds.borderColor;
            ctx.lineWidth = 4;
            seg(bx + 45, ly, bx + 146, ly);
            ctx.fillText(ds.label, bx + 221, ly + 2);
        });
        ctx.restore();
    }
};

const tickFont = { family: FONT, size: 59 };
const titleFont = { family: FONT, size: 62, lineHeight: 1 };

new Chart(document.getElementById('spectrum').getContext('2d'), {
    type: 'line',
    data: {
        datasets: [{
            label: '52942 SDSS',
            data: toPoints(sdssWave, sdssFlux),
            borderColor: '#000000',
            borderWidth: 4.5,
            pointRadius: 0,
            tension: 0,
            order: 2
        }, {
            label: '55455 BOSS',
            data: toPoints(bossWave, bossFlux),
            borderColor: '#ff0000',
            borderWidth: 4.5,
            pointRadius: 0,
            tension: 0,
            order: 1
        }]
    },
    options: {
        responsive: false,
        animation: false,
        devicePixelRatio: 1,
        layout: { padding: { left: 0, right: 17, top: 0, bottom: 0 } },
        plugins: { legend: { display: false }, tooltip: { enabled: false } },
        scales: {
            x: {
                type: 'linear',
                position: 'bottom',
                min: restRange[0],
                max: restRange[1],
                afterBuildTicks: s => { s.ticks = restTicks.map(v => ({ value: v })); },
                afterFit: s => { s.height = 147; },
                grid: { display: false, drawTicks: false },
                border: { display: false },
                ticks: { font: tickFont, color: '#000', padding: 5, maxRotation: 0, autoSkip: false, callback: plainLabel },
                title: { display: true, text: 'Rest Wavelength (\u00c5)', font: titleFont, color: '#000', padding: { top: 0, bottom: 3 } }
            },
            x2: {
                type: 'linear',
                position: 'top',
                min: obsRange[0],
                max: obsRange[1],
                afterBuildTicks: s => { s.ticks = obsTicks.map(v => ({ value: v })); },
                afterFit: s => { s.height = 143; },
                grid: { display: false, drawTicks: false },
                border: { display: false },
                ticks: { font: tickFont, color: '#000', padding: 3, maxRotation: 0, autoSkip: false, callback: plainLabel },
                title: { display: true, text: 'Observed Wavelength (\u00c5)', font: titleFont, color: '#000', padding: { top: 13, bottom: 0 } }
            },
            y: {
                type: 'linear',
                position: 'left',
                min: fluxRange[0],
                max: fluxRange[1],
                afterBuildTicks: s => { s.ticks = fluxTicks.map(v => ({ value: v })); },
                afterFit: s => { s.width = 179; },
                grid: { display: false, drawTicks: false },
                border: { display: false },
                ticks: { font: tickFont, color: '#000', padding: 20, callback: plainLabel }
            }
        }
    },
    plugins: [decor]
});
</script>
</body>
</html>
